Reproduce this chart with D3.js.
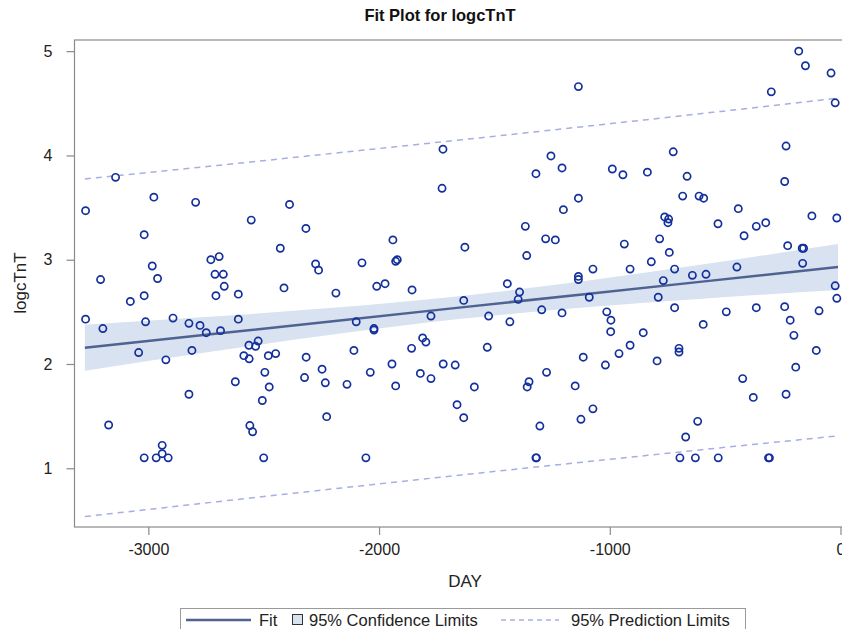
<!DOCTYPE html>
<html>
<head>
<meta charset="utf-8">
<script src="https://cdn.jsdelivr.net/npm/d3@7"></script>
<style>
  html, body { margin: 0; padding: 0; background: #fff; }
  svg { display: block; font-family: "Liberation Sans", Arial, sans-serif; }
</style>
</head>
<body>
<svg id="chart" width="842" height="629"></svg>
<script>
// ---------- data ----------
const title = "Fit Plot for logcTnT";
const xLabel = "DAY";
const yLabel = "logcTnT";
const xTicks = [-3000, -2000, -1000, 0];
const yTicks = [1, 2, 3, 4, 5];

const day = [
  -3142,-2976,-3272,-2795,-2554,-3018,-2729,-2693,-2983,-3207,
  -2960,-2711,-2675,-2671,-2707,-2610,-3018,-3078,-3272,-3197,
  -3012,-2893,-2824,-2776,-2749,-2687,-2610,-3042,-2924,-2811,
  -2564,-2524,-2535,-2586,-2563,-2480,-2495,-2476,-2623,-2824,
  -2506,-3172,-2560,-2548,-2940,-2940,-3018,-2966,-2914,-2500,
  -1723,-1727,-2388,-2317,-2428,-1940,-2275,-2262,-2074,-1928,
  -1921,-2412,-2187,-2010,-1974,-1857,-2099,-2022,-2022,-1775,
  -2448,-2316,-2109,-1859,-1811,-1797,-2323,-2247,-2233,-2139,
  -2038,-1944,-1928,-1821,-1775,-1722,-1670,-2227,-1662,-2057,
  -1136,-1255,-1320,-1207,-989,-943,-837,-1136,-1201,-1628,
  -1366,-1278,-1236,-1360,-937,-1073,-912,-820,-1136,-1136,
  -1444,-1391,-1397,-1633,-1089,-1525,-1295,-1207,-1433,-1013,
  -995,-996,-855,-1531,-912,-960,-1115,-1019,-1274,-1350,
  -1358,-1587,-1150,-1633,-1303,-1125,-1073,-1320,-1318,
  -181,-152,-41,-300,-23,-725,-236,-665,-684,-613,
  -593,-242,-443,-124,-16,-762,-745,-748,-531,-365,
  -324,-418,-784,-742,-229,-166,-160,-719,-642,-583,
  -449,-164,-768,-23,-16,-790,-719,-495,-365,-242,
  -93,-218,-595,-202,-700,-700,-105,-795,-194,-424,
  -378,-236,-619,-671,-696,-629,-530,-312,-308
];
const logcTnT = [
  3.79,3.60,3.47,3.55,3.38,3.24,3.00,3.03,2.94,2.81,
  2.82,2.86,2.86,2.745,2.655,2.67,2.655,2.60,2.43,2.34,
  2.405,2.44,2.39,2.37,2.30,2.32,2.43,2.11,2.04,2.13,
  2.18,2.22,2.17,2.08,2.05,2.08,1.92,1.78,1.83,1.71,
  1.65,1.415,1.41,1.35,1.22,1.14,1.10,1.10,1.10,1.10,
  4.06,3.685,3.53,3.30,3.11,3.19,2.96,2.90,2.97,2.985,
  3.00,2.73,2.68,2.745,2.77,2.71,2.405,2.34,2.325,2.46,
  2.10,2.065,2.13,2.15,2.25,2.21,1.87,1.95,1.82,1.805,
  1.92,2.00,1.79,1.91,1.86,2.00,1.99,1.495,1.61,1.10,
  4.66,3.995,3.825,3.88,3.87,3.815,3.84,3.59,3.48,3.12,
  3.32,3.20,3.19,3.04,3.15,2.91,2.91,2.98,2.84,2.81,
  2.77,2.69,2.62,2.61,2.64,2.46,2.52,2.49,2.405,2.50,
  2.42,2.31,2.30,2.16,2.18,2.10,2.065,1.99,1.92,1.83,
  1.78,1.78,1.79,1.485,1.405,1.47,1.57,1.10,1.10,
  5.00,4.86,4.79,4.61,4.505,4.035,4.09,3.80,3.61,3.61,
  3.59,3.75,3.49,3.42,3.40,3.41,3.39,3.355,3.345,3.32,
  3.355,3.23,3.20,3.07,3.135,3.11,3.11,2.91,2.85,2.86,
  2.93,2.965,2.80,2.75,2.63,2.64,2.54,2.50,2.54,2.55,
  2.51,2.42,2.38,2.275,2.15,2.115,2.13,2.03,1.97,1.86,
  1.68,1.71,1.45,1.30,1.10,1.10,1.10,1.10,1.10
];

// fit, confidence and prediction limits read at several days
const bandDay = [-3275, -2700, -2200, -1643, -1100, -600, -11];
const fitVal  = [2.156, 2.292, 2.411, 2.543, 2.672, 2.790, 2.930];
const ciLower = [1.936, 2.127, 2.283, 2.433, 2.545, 2.626, 2.710];
const ciUpper = [2.376, 2.457, 2.539, 2.653, 2.799, 2.954, 3.150];
const piLower = [0.537, 0.680, 0.802, 0.936, 1.063, 1.178, 1.311];
const piUpper = [3.775, 3.904, 4.020, 4.150, 4.280, 4.402, 4.549];

const legendItems = ["Fit", "95% Confidence Limits", "95% Prediction Limits"];

// ---------- styles ----------
const markerColor = "#14309c";
const fitColor = "#4f6291";
const bandColor = "#d8e2f0";
const predColor = "#a6aee4";
const frameColor = "#8a8a8a";
const textColor = "#222";

// ---------- layout ----------
const plot = { left: 74.5, right: 851, top: 40, bottom: 527 };
const svg = d3.select("#chart");

const x = d3.scaleLinear().domain([-3320, 45.5]).range([plot.left, plot.right]);
const y = d3.scaleLinear().domain([0.437, 5.107]).range([plot.bottom, plot.top]);

const bandRows = bandDay.map((d, i) => ({
  d, fit: fitVal[i], lo: ciLower[i], hi: ciUpper[i], plo: piLower[i], phi: piUpper[i]
}));
const points = day.map((d, i) => ({ d, v: logcTnT[i] }));

// clip
svg.append("defs").append("clipPath").attr("id", "clip")
  .append("rect").attr("x", plot.left).attr("y", plot.top)
  .attr("width", plot.right - plot.left).attr("height", plot.bottom - plot.top);

const g = svg.append("g").attr("clip-path", "url(#clip)");

// confidence band
g.append("path").datum(bandRows)
  .attr("fill", bandColor)
  .attr("d", d3.area().curve(d3.curveMonotoneX)
    .x(r => x(r.d)).y0(r => y(r.lo)).y1(r => y(r.hi)));

// prediction limits
["plo", "phi"].forEach(k => {
  g.append("path").datum(bandRows)
    .attr("fill", "none").attr("stroke", predColor)
    .attr("stroke-width", 1.5).attr("stroke-dasharray", "6,5")
    .attr("d", d3.line().curve(d3.curveMonotoneX).x(r => x(r.d)).y(r => y(r[k])));
});

// fit line
g.append("path").datum(bandRows)
  .attr("fill", "none").attr("stroke", fitColor).attr("stroke-width", 2.5)
  .attr("d", d3.line().x(r => x(r.d)).y(r => y(r.fit)));

// points
g.selectAll("circle.pt").data(points).join("circle")
  .attr("class", "pt")
  .attr("cx", p => x(p.d)).attr("cy", p => y(p.v)).attr("r", 3.6)
  .attr("fill", "none").attr("stroke", markerColor).attr("stroke-width", 1.7);

// frame
svg.append("rect")
  .attr("x", plot.left).attr("y", plot.top)
  .attr("width", plot.right - plot.left).attr("height", plot.bottom - plot.top)
  .attr("fill", "none").attr("stroke", frameColor).attr("stroke-width", 1.2);

// axes
const xAxis = svg.append("g").attr("transform", `translate(0,${plot.bottom})`)
  .call(d3.axisBottom(x).tickValues(xTicks).tickFormat(d => String(d)).tickSize(8).tickPadding(9));
const yAxis = svg.append("g").attr("transform", `translate(${plot.left},0)`)
  .call(d3.axisLeft(y).tickValues(yTicks).tickFormat(d => String(d)).tickSize(8).tickPadding(14));
[xAxis, yAxis].forEach(a => {
  a.select(".domain").remove();
  a.selectAll(".tick line").attr("stroke", frameColor).attr("stroke-width", 1.2);
  a.selectAll(".tick text").attr("fill", textColor)
    .style("font-family", "'Liberation Sans', Arial, sans-serif").style("font-size", "16px");
});

// labels
svg.append("text").attr("x", 440).attr("y", 21).attr("text-anchor", "middle")
  .attr("font-size", 16.5).attr("font-weight", "bold").attr("fill", "#111").text(title);
svg.append("text").attr("x", 465).attr("y", 587).attr("text-anchor", "middle")
  .attr("font-size", 17).attr("fill", textColor).text(xLabel);
svg.append("text").attr("transform", "translate(26,283) rotate(-90)").attr("text-anchor", "middle")
  .attr("font-size", 17).attr("fill", textColor).text(yLabel);

// legend
const lg = svg.append("g");
lg.append("rect").attr("x", 180.5).attr("y", 608.5).attr("width", 565).attr("height", 24)
  .attr("fill", "#fff").attr("stroke", "#9a9a9a").attr("stroke-width", 1);
const ly = 620;
lg.append("line").attr("x1", 186).attr("x2", 251).attr("y1", ly).attr("y2", ly)
  .attr("stroke", fitColor).attr("stroke-width", 2.5);
lg.append("text").attr("x", 259).attr("y", ly + 6).attr("font-size", 16.5).attr("fill", textColor).text(legendItems[0]);
lg.append("rect").attr("x", 292.5).attr("y", ly - 5.5).attr("width", 10).attr("height", 10)
  .attr("fill", bandColor).attr("stroke", "#333").attr("stroke-width", 1);
lg.append("text").attr("x", 309).attr("y", ly + 6).attr("font-size", 16.5).attr("fill", textColor).text(legendItems[1]);
lg.append("line").attr("x1", 501).attr("x2", 559).attr("y1", ly).attr("y2", ly)
  .attr("stroke", predColor).attr("stroke-width", 1.4).attr("stroke-dasharray", "5,4");
lg.append("text").attr("x", 571).attr("y", ly + 6).attr("font-size", 16.5).attr("fill", textColor).text(legendItems[2]);
</script>
</body>
</html>
